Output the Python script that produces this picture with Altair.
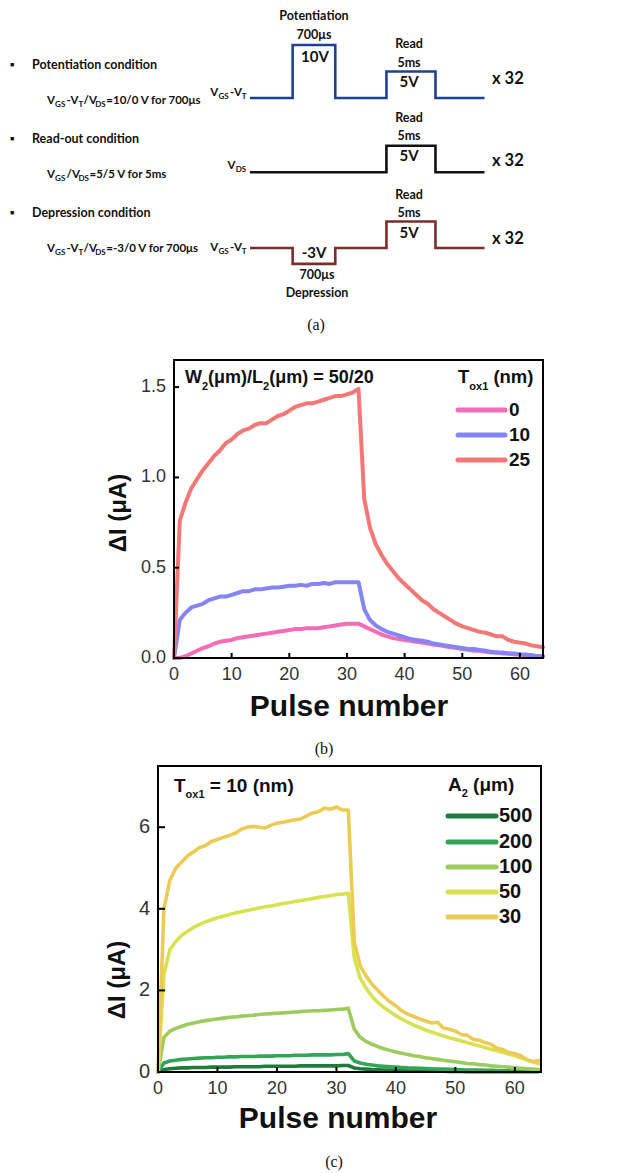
import altair as alt
import pandas as pd

W, H = 633, 1173
SANS = "Liberation Sans"
SCHEM = "Lato"
SERIF = "Liberation Serif"

# ---------------- data: panel (b) ----------------
pulses = list(range(0, 65))
b_series = ["0", "10", "25"]
b_colors = ["#F26CB6", "#8484F2", "#F27777"]
b_tox0 = [0.00, 0.00, 0.01, 0.025, 0.04, 0.055, 0.065, 0.08, 0.09, 0.095,
          0.10, 0.11, 0.115, 0.12, 0.125, 0.13, 0.135, 0.14, 0.145, 0.15,
          0.155, 0.16, 0.16, 0.165, 0.165, 0.165, 0.17, 0.175, 0.18, 0.185,
          0.19, 0.19, 0.19, 0.175, 0.16, 0.145, 0.13, 0.12, 0.11, 0.105,
          0.10, 0.095, 0.09, 0.085, 0.08, 0.075, 0.07, 0.065, 0.06, 0.055,
          0.05, 0.045, 0.04, 0.04, 0.035, 0.03, 0.03, 0.025, 0.025, 0.02,
          0.02, 0.015, 0.015, 0.01, 0.01]
b_tox10 = [0.00, 0.21, 0.25, 0.28, 0.29, 0.30, 0.32, 0.33, 0.34, 0.34,
           0.35, 0.36, 0.37, 0.37, 0.38, 0.38, 0.385, 0.39, 0.39, 0.395,
           0.40, 0.40, 0.405, 0.40, 0.41, 0.41, 0.415, 0.41, 0.42, 0.42,
           0.42, 0.42, 0.42, 0.27, 0.21, 0.18, 0.16, 0.145, 0.135, 0.125,
           0.115, 0.105, 0.10, 0.095, 0.09, 0.08, 0.075, 0.07, 0.065, 0.06,
           0.055, 0.05, 0.05, 0.045, 0.04, 0.035, 0.03, 0.03, 0.025, 0.025,
           0.02, 0.02, 0.015, 0.01, 0.01]
b_tox25 = [0.00, 0.76, 0.86, 0.94, 0.99, 1.04, 1.08, 1.12, 1.15, 1.19,
           1.21, 1.24, 1.26, 1.27, 1.29, 1.30, 1.30, 1.32, 1.34, 1.35,
           1.37, 1.39, 1.40, 1.41, 1.41, 1.42, 1.43, 1.44, 1.45, 1.45,
           1.46, 1.47, 1.49, 0.88, 0.72, 0.63, 0.57, 0.52, 0.48, 0.44,
           0.41, 0.38, 0.35, 0.32, 0.30, 0.27, 0.25, 0.23, 0.21, 0.19,
           0.175, 0.165, 0.155, 0.145, 0.14, 0.13, 0.12, 0.12, 0.10, 0.09,
           0.085, 0.08, 0.07, 0.065, 0.06]
b_xticks = [0, 10, 20, 30, 40, 50, 60]
b_yticks = [0.0, 0.5, 1.0, 1.5]

# ---------------- data: panel (c) ----------------
c_series = ["500", "200", "100", "50", "30"]
c_colors = ["#1F7A3C", "#34A457", "#9DCB5E", "#D8E14F", "#ECCB55"]
c_a500 = [0, 0.06, 0.08, 0.09, 0.10, 0.10, 0.11, 0.11, 0.11, 0.12,
          0.12, 0.12, 0.12, 0.13, 0.13, 0.13, 0.13, 0.13, 0.14, 0.14,
          0.14, 0.14, 0.14, 0.14, 0.15, 0.15, 0.15, 0.15, 0.15, 0.15,
          0.15, 0.16, 0.16, 0.10, 0.08, 0.07, 0.06, 0.055, 0.05, 0.045,
          0.04, 0.035, 0.03, 0.03, 0.025, 0.025, 0.02, 0.02, 0.02, 0.015,
          0.015, 0.015, 0.01, 0.01, 0.01, 0.01, 0.01, 0.01, 0.005, 0.005,
          0.005, 0.005, 0.005, 0.005, 0.005]
c_a200 = [0, 0.22, 0.27, 0.29, 0.31, 0.32, 0.33, 0.34, 0.35, 0.35,
          0.36, 0.36, 0.37, 0.37, 0.38, 0.38, 0.38, 0.39, 0.39, 0.39,
          0.40, 0.40, 0.40, 0.41, 0.41, 0.41, 0.42, 0.42, 0.42, 0.42,
          0.43, 0.43, 0.45, 0.27, 0.22, 0.19, 0.17, 0.15, 0.14, 0.13,
          0.12, 0.11, 0.10, 0.095, 0.09, 0.085, 0.08, 0.075, 0.07, 0.065,
          0.06, 0.055, 0.05, 0.05, 0.045, 0.04, 0.04, 0.035, 0.03, 0.03,
          0.025, 0.025, 0.02, 0.02, 0.02]
c_a100 = [0, 0.85, 1.00, 1.07, 1.12, 1.17, 1.20, 1.23, 1.26, 1.28,
          1.30, 1.32, 1.34, 1.35, 1.37, 1.38, 1.39, 1.41, 1.42, 1.43,
          1.44, 1.45, 1.46, 1.47, 1.48, 1.49, 1.50, 1.50, 1.51, 1.52,
          1.53, 1.54, 1.56, 1.05, 0.85, 0.75, 0.68, 0.62, 0.57, 0.53,
          0.49, 0.46, 0.43, 0.40, 0.38, 0.35, 0.33, 0.31, 0.29, 0.27,
          0.25, 0.23, 0.21, 0.20, 0.18, 0.17, 0.15, 0.14, 0.13, 0.12,
          0.10, 0.09, 0.08, 0.07, 0.06]
c_a50 = [0, 2.4, 3.0, 3.2, 3.35, 3.45, 3.55, 3.62, 3.68, 3.73,
         3.78, 3.82, 3.86, 3.90, 3.93, 3.96, 3.99, 4.02, 4.05, 4.07,
         4.10, 4.13, 4.15, 4.18, 4.20, 4.23, 4.25, 4.28, 4.30, 4.32,
         4.35, 4.36, 4.38, 2.8, 2.3, 2.05, 1.85, 1.70, 1.58, 1.48,
         1.38, 1.30, 1.22, 1.15, 1.09, 1.03, 0.98, 0.93, 0.88, 0.84,
         0.80, 0.76, 0.72, 0.68, 0.64, 0.60, 0.56, 0.52, 0.48, 0.44,
         0.40, 0.35, 0.30, 0.25, 0.20]
c_a30 = [0, 4.0, 4.7, 5.0, 5.15, 5.3, 5.4, 5.5, 5.55, 5.65,
         5.7, 5.75, 5.8, 5.85, 5.95, 6.0, 6.02, 6.0, 5.98, 6.05,
         6.1, 6.12, 6.15, 6.18, 6.2, 6.28, 6.35, 6.38, 6.47, 6.44,
         6.5, 6.42, 6.42, 3.2, 2.6, 2.35, 2.15, 2.0, 1.85, 1.72,
         1.62, 1.5, 1.42, 1.36, 1.3, 1.25, 1.2, 1.22, 1.08, 1.05,
         1.0, 0.92, 0.9, 0.8, 0.78, 0.72, 0.68, 0.58, 0.55, 0.48,
         0.45, 0.4, 0.3, 0.25, 0.28]
c_xticks = [0, 10, 20, 30, 40, 50, 60]
c_yticks = [0, 2, 4, 6]

# ---------------- data: panel (a) waveforms ----------------
wave_rows = ["pot", "read", "dep"]
wave_colors = ["#1F3F92", "#111111", "#7B2D2D"]
wave_t = [0, 1, 2, 3.2, 4.35, 5.5]          # breakpoints (schematic time units)
wave_pot = [0, 10, 0, 5, 0, 0]              # volts (step-after)
wave_read = [0, 0, 0, 5, 0, 0]
wave_dep = [0, -3, 0, 5, 0, 0]

# ---------------- layout (pixels) ----------------
B_L, B_R, B_T, B_B = 174, 543, 360, 658
C_L, C_R, C_T, C_B = 158, 541, 766, 1072
row_offset = {"pot": 0.0, "read": -14.0, "dep": -28.3}   # stacking of schematic rows

# approximate advance widths (em) of a bold sans face, used to lay out subscripts
EM = {"V": .667, "G": .778, "S": .667, "T": .611, "D": .722, "A": .722, "W": .944,
      "L": .611, "-": .333, "/": .278, "=": .584, " ": .278, "(": .333, ")": .333,
      ".": .278, "f": .333, "o": .611, "r": .389, "s": .556, "m": .889, "n": .611,
      "x": .556, "μ": .611}
EM_LATO = dict(EM, V=.70, **{"/": .33, "-": .33})


def tw(s, size, k=1.0, em=EM):
    return sum(em.get(ch, .556) for ch in s) * size * k


def tlayer(rows, size, weight="normal", font=SANS, align="left",
           color="#111111", baseline="middle", angle=0):
    df = pd.DataFrame(rows, columns=["label", "px", "py"])
    return alt.Chart(df).mark_text(
        align=align, baseline=baseline, fontSize=size, fontWeight=weight,
        font=font, color=color, angle=angle
    ).encode(
        x=alt.X("px:Q", scale=None, axis=None),
        y=alt.Y("py:Q", scale=None, axis=None),
        text=alt.Text("label:N"),
    )


def rich(segs, x0, y, size, subsize, subdy, weight, font, k=1.0, right=False,
         color="#111111", em=EM, gap=0.0):
    total = sum(tw(t, subsize if s else size, k, em) + gap for t, s in segs) - gap
    x = x0 - total if right else x0
    main, sub = [], []
    for t, s in segs:
        sz = subsize if s else size
        lead = len(t) - len(t.lstrip(" "))
        x += tw(" " * lead, sz, k, em)
        t = t.lstrip(" ")
        (sub if s else main).append((t, x, y + (subdy if s else 0)))
        x += tw(t, sz, k, em) + gap
    return [tlayer(main, size, weight, font, color=color),
            tlayer(sub, subsize, weight, font, color=color)]


layers = []

# ================= panel (a) =================
wave_levels = {"pot": wave_pot, "read": wave_read, "dep": wave_dep}
wrows = []
for r in wave_rows:
    for t, v in zip(wave_t, wave_levels[r]):
        wrows.append({"row": r, "t": t, "level": v + row_offset[r]})
wave_df = pd.DataFrame(wrows)
waves = alt.Chart(wave_df).mark_line(interpolate="step-after", strokeWidth=2.6,
                                     strokeJoin="miter").encode(
    x=alt.X("t:Q", scale=alt.Scale(domain=[0, 5.5], range=[250, 484.5], nice=False, zero=False), axis=None),
    y=alt.Y("level:Q", scale=alt.Scale(domain=[-40, 20], range=[310, -8], nice=False, zero=False), axis=None),
    color=alt.Color("row:N", scale=alt.Scale(domain=wave_rows, range=wave_colors), legend=None),
    detail="row:N",
)
layers.append(waves)

LK = 0.97
layers.append(tlayer([("■", 12, 65), ("■", 12, 139), ("■", 12, 213)], 7, "normal", SANS, "center"))
layers.append(tlayer([("Potentiation condition", 32, 65), ("Read-out condition", 32, 139),
                      ("Depression condition", 32, 213)], 12.5, "bold", SCHEM))
cond1 = [("V", False), ("GS", True), ("-V", False), ("T", True), ("/V", False), ("DS", True),
         ("=10/0 V for 700μs", False)]
cond2 = [("V", False), ("GS", True), ("/V", False), ("DS", True), ("=5/5 V for  5ms", False)]
cond3 = [("V", False), ("GS", True), ("-V", False), ("T", True), ("/V", False), ("DS", True),
         ("=-3/0 V for 700μs", False)]
for cond, yy in ((cond1, 101), (cond2, 175), (cond3, 249)):
    layers += rich(cond, 47, yy, 11.5, 8, 4, "bold", SCHEM, LK, em=EM_LATO, gap=0.3)
vgt = [("V", False), ("GS", True), ("-V", False), ("T", True)]
layers += rich(vgt, 246.5, 93, 11.5, 8, 4, "bold", SCHEM, LK, right=True, em=EM_LATO, gap=0.3)
layers += rich([("V", False), ("DS", True)], 246.5, 166, 11.5, 8, 4, "bold", SCHEM, LK, right=True,
               em=EM_LATO, gap=0.3)
layers += rich(vgt, 246.5, 248, 11.5, 8, 4, "bold", SCHEM, LK, right=True, em=EM_LATO, gap=0.3)
layers.append(tlayer([("Potentiation", 314, 16), ("700μs", 314, 35),
                      ("Read", 409, 44), ("5ms", 409, 63),
                      ("Read", 409, 118), ("5ms", 409, 136),
                      ("Read", 409, 195), ("5ms", 409, 213),
                      ("700μs", 317, 275), ("Depression", 317, 293)], 12.5, "bold", SCHEM, "center"))
layers.append(tlayer([("10V", 315, 57), ("5V", 409, 82), ("5V", 409, 156), ("5V", 409, 233),
                      ("-3V", 314, 253)], 15, "bold", SCHEM, "center"))
layers.append(tlayer([("x 32", 492, 79), ("x 32", 492, 161), ("x 32", 492, 239)], 16.5, "bold", SCHEM))
layers.append(tlayer([("(a)", 316, 325), ("(b)", 324, 749), ("(c)", 334, 1162)], 16, "normal", SERIF, "center"))


def panel(df, series_field, series, colors, xdom, ydom, xr, yr, xticks, yticks, yfmt,
          lw, ylab_size, ytick_len):
    lines = alt.Chart(df).mark_line(strokeWidth=lw, strokeJoin="round", strokeCap="round").encode(
        x=alt.X("pulse:Q", scale=alt.Scale(domain=xdom, range=xr, nice=False, zero=False), axis=None),
        y=alt.Y("dI:Q", scale=alt.Scale(domain=ydom, range=yr, nice=False, zero=False), axis=None),
        color=alt.Color(f"{series_field}:N", scale=alt.Scale(domain=series, range=colors), legend=None),
    )
    one = pd.DataFrame({"k": [0]})
    frame = alt.Chart(one).mark_rect(filled=False, stroke="#000000", strokeWidth=2).encode(
        x=alt.X(datum=xdom[0], axis=None), x2=alt.X2(datum=xdom[1]),
        y=alt.Y(datum=ydom[0], axis=None), y2=alt.Y2(datum=ydom[1]))
    xt_df = pd.DataFrame({"pulse": xticks})
    yt_df = pd.DataFrame({"dI": yticks})
    xt = alt.Chart(xt_df[xt_df.pulse > 0]).mark_rule(
        color="#000000", strokeWidth=2, y2Offset=-5).encode(
        x=alt.X("pulse:Q", axis=None), y=alt.Y(datum=0, axis=None), y2=alt.Y2(datum=0))
    yt = alt.Chart(yt_df[yt_df.dI > 0]).mark_rule(
        color="#000000", strokeWidth=2, x2Offset=ytick_len).encode(
        y=alt.Y("dI:Q", axis=None), x=alt.X(datum=0, axis=None), x2=alt.X2(datum=0))
    xl = alt.Chart(xt_df).mark_text(baseline="top", dy=8, fontSize=18, font=SANS,
                                    color="#333333").encode(
        x=alt.X("pulse:Q", axis=None), y=alt.Y(datum=0, axis=None),
        text=alt.Text("pulse:Q", format="d"))
    yl = alt.Chart(yt_df).mark_text(align="right", baseline="middle", dx=-8, fontSize=ylab_size,
                                    font=SANS, color="#333333").encode(
        y=alt.Y("dI:Q", axis=None), x=alt.X(datum=0, axis=None),
        text=alt.Text("dI:Q", format=yfmt))
    return alt.layer(lines, frame, xt, yt, xl, yl)


# ================= panel (b) =================
b_df = pd.DataFrame({
    "pulse": pulses * 3,
    "dI": b_tox0 + b_tox10 + b_tox25,
    "Tox": [b_series[0]] * 65 + [b_series[1]] * 65 + [b_series[2]] * 65,
})
layers.append(panel(b_df, "Tox", b_series, b_colors, [0, 64], [0, 1.65], [B_L, B_R], [B_B, B_T],
                    b_xticks, b_yticks, ".1f", 4, 18, 5))
layers.append(tlayer([("Pulse number", 349, 707)], 30, "bold", SANS, "center"))
layers.append(tlayer([("ΔI (μA)", 119, 513)], 24, "bold", SANS, "center", angle=270))

b_leg_y = [410, 435, 460]
b_leg = pd.DataFrame({"x1": [458] * 3, "x2": [505] * 3, "py": b_leg_y, "col": b_colors})
layers.append(alt.Chart(b_leg).mark_rule(strokeWidth=5, strokeCap="round").encode(
    x=alt.X("x1:Q", scale=None, axis=None), x2=alt.X2("x2:Q"),
    y=alt.Y("py:Q", scale=None, axis=None), color=alt.Color("col:N", scale=None)))
layers.append(tlayer([(s, 509, y) for s, y in zip(b_series, b_leg_y)], 19, "bold", SANS))
layers += rich([("T", False), ("ox1", True), (" (nm)", False)], 458, 377, 18.5, 11, 10, "bold", SANS)
layers += rich([("W", False), ("2", True), ("(μm)/L", False), ("2", True), ("(μm) = 50/20", False)],
               185, 378, 18, 11, 9, "bold", SANS)

# ================= panel (c) =================
c_vals = [c_a500, c_a200, c_a100, c_a50, c_a30]
c_df = pd.DataFrame({
    "pulse": pulses * len(c_series),
    "dI": sum(c_vals, []),
    "A2": sum([[s] * 65 for s in c_series], []),
})
layers.append(panel(c_df, "A2", c_series, c_colors, [0, 64.4], [0, 7.5], [C_L, C_R], [C_B, C_T],
                    c_xticks, c_yticks, "d", 3.6, 20, 7))
layers.append(tlayer([("Pulse number", 338, 1119)], 30, "bold", SANS, "center"))
layers.append(tlayer([("ΔI (μA)", 118, 980)], 24, "bold", SANS, "center", angle=270))

c_leg_y = [816, 842, 867, 892, 917]
c_leg = pd.DataFrame({"x1": [448] * 5, "x2": [496] * 5, "py": c_leg_y, "col": c_colors})
layers.append(alt.Chart(c_leg).mark_rule(strokeWidth=5, strokeCap="round").encode(
    x=alt.X("x1:Q", scale=None, axis=None), x2=alt.X2("x2:Q"),
    y=alt.Y("py:Q", scale=None, axis=None), color=alt.Color("col:N", scale=None)))
layers.append(tlayer([(s, 499, y) for s, y in zip(c_series, c_leg_y)], 20, "bold", SANS))
layers += rich([("A", False), ("2", True), (" (μm)", False)], 448, 785, 19, 11, 9, "bold", SANS)
layers += rich([("T", False), ("ox1", True), (" = 10 (nm)", False)], 174, 786, 19, 11, 9, "bold", SANS)

chart = alt.layer(*layers).resolve_scale(
    x="independent", y="independent", color="independent"
).properties(
    width=W, height=H, padding=0, background="white",
    autosize=alt.AutoSizeParams(type="none"),
).configure_view(stroke="transparent")

chart.save("out.html", embed_options={"renderer": "svg", "actions": False})
